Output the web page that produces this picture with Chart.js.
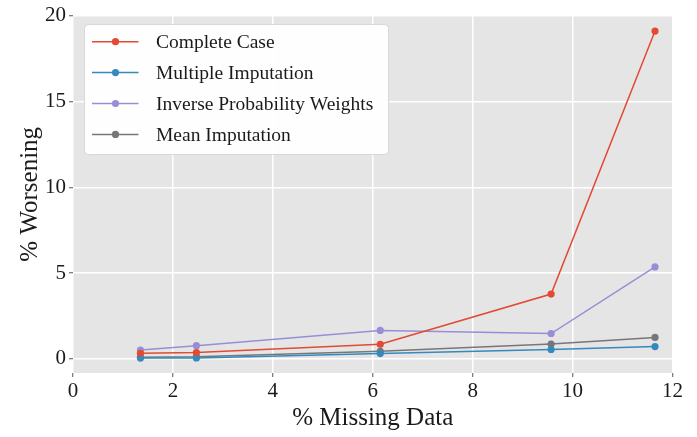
<!DOCTYPE html>
<html>
<head>
<meta charset="utf-8">
<script src="https://cdn.jsdelivr.net/npm/chart.js@4/dist/chart.umd.min.js"></script>
<style>
  html, body { margin: 0; padding: 0; background: #fff; }
  #wrap { width: 697px; height: 437px; }
</style>
</head>
<body>
<div id="wrap"><canvas id="myChart" width="697" height="437"></canvas></div>
<script>
const missing = [1.35, 2.47, 6.15, 9.57, 11.65];
const completeCase = [0.33, 0.37, 0.85, 3.78, 19.1];
const multipleImp = [0.05, 0.06, 0.31, 0.55, 0.72];
const ipw = [0.52, 0.77, 1.66, 1.48, 5.36];
const meanImp = [0.10, 0.12, 0.44, 0.87, 1.25];
const seriesNames = ["Complete Case", "Multiple Imputation", "Inverse Probability Weights", "Mean Imputation"];
const seriesColors = ["#E24A33", "#348ABD", "#988ED5", "#777777"];
const xTicks = [0, 2, 4, 6, 8, 10, 12];
const yTicks = [0, 5, 10, 15, 20];

const serif = "'Liberation Serif', 'DejaVu Serif', serif";

function makeSet(name, values, color) {
	return {
		label: name,
		data: values.map((v, i) => ({ x: missing[i], y: v })),
		borderColor: color,
		backgroundColor: color,
		borderWidth: 1.5,
		pointRadius: 3.6,
		pointHoverRadius: 3.6,
		pointBorderWidth: 0,
		tension: 0,
	};
}

// matplotlib style gray panel
const panelBg = {
	id: "panelBg",
	beforeDraw(chart) {
		const { ctx, chartArea: a } = chart;
		ctx.save();
		ctx.fillStyle = "#E5E5E5";
		ctx.fillRect(a.left, a.top, a.right - a.left, a.bottom - a.top);
		ctx.restore();
	},
};

// legend box drawn inside the plot, line + marker per entry
const insideLegend = {
	id: "insideLegend",
	afterDatasetsDraw(chart) {
		const ctx = chart.ctx;
		const x0 = 84.5, y0 = 24.5, w = 304, h = 130, r = 4;
		ctx.save();
		ctx.beginPath();
		ctx.roundRect(x0, y0, w, h, r);
		ctx.fillStyle = "rgba(255,255,255,0.95)";
		ctx.fill();
		ctx.strokeStyle = "#d8d8d8";
		ctx.lineWidth = 1;
		ctx.stroke();
		chart.data.datasets.forEach((ds, i) => {
			const y = 41.7 + i * 30.9;
			ctx.strokeStyle = ds.borderColor;
			ctx.lineWidth = 1.5;
			ctx.beginPath();
			ctx.moveTo(92, y);
			ctx.lineTo(138.5, y);
			ctx.stroke();
			ctx.fillStyle = ds.borderColor;
			ctx.beginPath();
			ctx.arc(115.5, y, 3.6, 0, Math.PI * 2);
			ctx.fill();
			ctx.fillStyle = "#1a1a1a";
			ctx.font = "19.5px " + serif;
			ctx.textBaseline = "middle";
			ctx.fillText(ds.label, 156, y + 1.5);
		});
		ctx.restore();
	},
};

const ctx = document.getElementById("myChart");
new Chart(ctx, {
	type: "line",
	data: {
		datasets: [
			makeSet(seriesNames[0], completeCase, seriesColors[0]),
			makeSet(seriesNames[1], multipleImp, seriesColors[1]),
			makeSet(seriesNames[2], ipw, seriesColors[2]),
			makeSet(seriesNames[3], meanImp, seriesColors[3]),
		],
	},
	options: {
		responsive: false,
		animation: false,
		layout: { padding: { top: 15, right: 24.5, left: 0, bottom: 0 } },
		plugins: {
			legend: { display: false },
			tooltip: { enabled: false },
		},
		scales: {
			x: {
				type: "linear",
				min: 0,
				max: 12,
				afterBuildTicks: (s) => { s.ticks = xTicks.map((v) => ({ value: v })); },
				afterFit: (s) => { s.height = 64; },
				border: { display: false },
				grid: { color: "#ffffff", lineWidth: 1.5, tickColor: "#555555", tickLength: 4, tickWidth: 1 },
				ticks: { color: "#1a1a1a", padding: 2, maxRotation: 0, font: { family: serif, size: 21 } },
				title: {
					display: true,
					text: "% Missing Data",
					color: "#1a1a1a",
					font: { family: serif, size: 25 },
					padding: { top: 0, bottom: 4 },
				},
			},
			y: {
				type: "linear",
				min: -0.82,
				max: 20,
				afterBuildTicks: (s) => { s.ticks = yTicks.map((v) => ({ value: v })); },
				afterFit: (s) => { s.width = 73; },
				border: { display: false },
				grid: { color: "#ffffff", lineWidth: 1.5, tickColor: "#555555", tickLength: 4, tickWidth: 1 },
				ticks: { color: "#1a1a1a", padding: 3, font: { family: serif, size: 21 } },
				title: {
					display: true,
					text: "% Worsening",
					color: "#1a1a1a",
					font: { family: serif, size: 25 },
					padding: { top: 15, bottom: 0 },
				},
			},
		},
	},
	plugins: [panelBg, insideLegend],
});
</script>
</body>
</html>
